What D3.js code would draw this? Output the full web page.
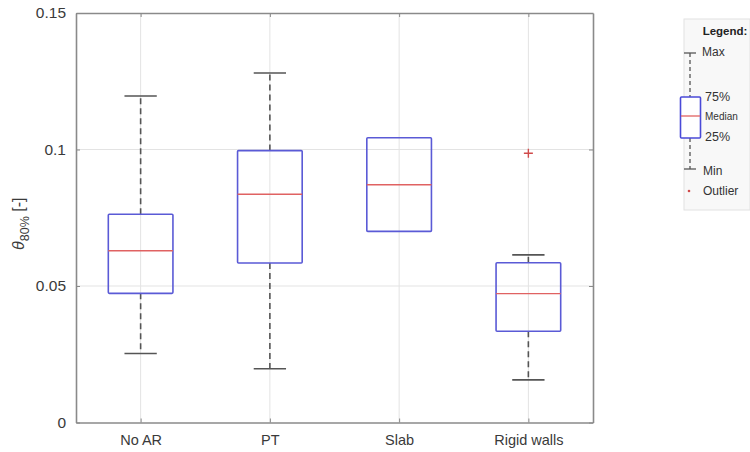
<!DOCTYPE html>
<html>
<head>
<meta charset="utf-8">
<script src="https://cdn.jsdelivr.net/npm/d3@7"></script>
<style>
  body { margin: 0; background: #fff; }
  svg { display: block; font-family: "Liberation Sans", Arial, sans-serif; }
</style>
</head>
<body>
<svg id="chart" width="750" height="452"></svg>
<script>
// ---- data ----
const categories = ["No AR", "PT", "Slab", "Rigid walls"];
const whiskerLow = [0.0253, 0.0197, 0.0700, 0.0156];
const q1 = [0.0473, 0.0584, 0.0700, 0.0334];
const medians = [0.0629, 0.0836, 0.0871, 0.0472];
const q3 = [0.0763, 0.0996, 0.1043, 0.0585];
const whiskerHigh = [0.1196, 0.1280, 0.1043, 0.0614];
const outliers = [[], [], [], [0.0986]];
const yTicks = [0, 0.05, 0.1, 0.15];
const yTickLabels = ["0", "0.05", "0.1", "0.15"];

// ---- layout ----
const svg = d3.select("#chart");
const L = 76, R = 593, T = 13, B = 422.5;

const x = d3.scalePoint().domain(categories).range([L, R]).padding(0.5);
const y = d3.scaleLinear().domain([0, 0.15]).range([B, T]);
const step = x.step();
const boxW = step * 0.5;
const capW = boxW * 0.5;

// grid
const g = svg.append("g");
g.selectAll(".hgrid").data(yTicks.slice(1, -1)).enter().append("line")
  .attr("x1", L).attr("x2", R).attr("y1", d => y(d)).attr("y2", d => y(d))
  .attr("stroke", "#e3e3e3").attr("stroke-width", 1);
g.selectAll(".vgrid").data(categories).enter().append("line")
  .attr("x1", d => x(d)).attr("x2", d => x(d)).attr("y1", T).attr("y2", B)
  .attr("stroke", "#e3e3e3").attr("stroke-width", 1);

// axes using d3 axis
const axisColor = "#8a8a8a";
const yAxis = svg.append("g").attr("transform", `translate(${L},0)`)
  .call(d3.axisLeft(y).tickValues(yTicks).tickFormat((d, i) => yTickLabels[i]).tickSizeInner(-4).tickSizeOuter(0).tickPadding(10));
const yAxisR = svg.append("g").attr("transform", `translate(${R},0)`)
  .call(d3.axisRight(y).tickValues(yTicks).tickFormat("").tickSizeInner(-4).tickSizeOuter(0));
const xAxis = svg.append("g").attr("transform", `translate(0,${B})`)
  .call(d3.axisBottom(x).tickSizeInner(-4).tickSizeOuter(0).tickPadding(12));
const xAxisT = svg.append("g").attr("transform", `translate(0,${T})`)
  .call(d3.axisTop(x).tickFormat("").tickSizeInner(-4).tickSizeOuter(0));
[yAxis, yAxisR, xAxis, xAxisT].forEach(a => {
  a.select(".domain").attr("stroke", axisColor).attr("stroke-width", 1.6);
  a.selectAll(".tick line").attr("stroke", axisColor).attr("stroke-width", 1);
  a.selectAll("text").attr("fill", "#3a3a3a").attr("font-size", 15.5)
    .attr("font-family", "'Liberation Sans', Arial, sans-serif");
});
xAxis.selectAll("text").attr("font-size", 14.5);

// boxes
const wColor = "#555";
categories.forEach((c, i) => {
  const cx = x(c);
  const grp = svg.append("g");
  if (whiskerHigh[i] > q3[i]) {
    grp.append("line").attr("x1", cx).attr("x2", cx)
      .attr("y1", y(q3[i])).attr("y2", y(whiskerHigh[i]))
      .attr("stroke", wColor).attr("stroke-width", 1.6).attr("stroke-dasharray", "6,4");
    grp.append("line").attr("x1", cx - capW / 2).attr("x2", cx + capW / 2)
      .attr("y1", y(whiskerHigh[i])).attr("y2", y(whiskerHigh[i]))
      .attr("stroke", wColor).attr("stroke-width", 1.6);
  }
  if (whiskerLow[i] < q1[i]) {
    grp.append("line").attr("x1", cx).attr("x2", cx)
      .attr("y1", y(q1[i])).attr("y2", y(whiskerLow[i]))
      .attr("stroke", wColor).attr("stroke-width", 1.6).attr("stroke-dasharray", "6,4");
    grp.append("line").attr("x1", cx - capW / 2).attr("x2", cx + capW / 2)
      .attr("y1", y(whiskerLow[i])).attr("y2", y(whiskerLow[i]))
      .attr("stroke", wColor).attr("stroke-width", 1.6);
  }
  grp.append("rect")
    .attr("x", cx - boxW / 2).attr("width", boxW)
    .attr("y", y(q3[i])).attr("height", y(q1[i]) - y(q3[i]))
    .attr("fill", "none").attr("stroke", "#5a5ad6").attr("stroke-width", 1.6).attr("rx", 1);
  grp.append("line")
    .attr("x1", cx - boxW / 2).attr("x2", cx + boxW / 2)
    .attr("y1", y(medians[i])).attr("y2", y(medians[i]))
    .attr("stroke", "#e06262").attr("stroke-width", 1.4);
  outliers[i].forEach(v => {
    const cy = y(v), s = 4.5;
    grp.append("path").attr("d", `M${cx - s},${cy}H${cx + s}M${cx},${cy - s}V${cy + s}`)
      .attr("stroke", "#d04a4a").attr("stroke-width", 1.4).attr("fill", "none");
  });
});

// y label
const yl = svg.append("text")
  .attr("transform", `translate(24,${(T + B) / 2 + 6}) rotate(-90)`)
  .attr("text-anchor", "middle").attr("fill", "#3a3a3a").attr("font-size", 16);
yl.append("tspan").attr("font-style", "italic").text("θ");
yl.append("tspan").attr("font-size", 12.5).attr("dy", 5).text("80%");
yl.append("tspan").attr("dy", -5).text(" [-]");

// legend
const lg = svg.append("g");
lg.append("rect").attr("x", 684).attr("y", 19).attr("width", 66).attr("height", 191)
  .attr("fill", "#f8f8f8").attr("stroke", "#e2e2e2").attr("stroke-width", 1);
lg.append("text").attr("x", 725).attr("y", 35).attr("text-anchor", "middle")
  .attr("font-size", 11.5).attr("font-weight", "bold").attr("fill", "#222").text("Legend:");
const lx = 690;
lg.append("line").attr("x1", lx).attr("x2", lx).attr("y1", 53).attr("y2", 97)
  .attr("stroke", wColor).attr("stroke-width", 1.3).attr("stroke-dasharray", "4,3");
lg.append("line").attr("x1", lx).attr("x2", lx).attr("y1", 138).attr("y2", 169)
  .attr("stroke", wColor).attr("stroke-width", 1.3).attr("stroke-dasharray", "4,3");
lg.append("line").attr("x1", lx - 6).attr("x2", lx + 6).attr("y1", 53).attr("y2", 53)
  .attr("stroke", wColor).attr("stroke-width", 1.3);
lg.append("line").attr("x1", lx - 6).attr("x2", lx + 6).attr("y1", 169).attr("y2", 169)
  .attr("stroke", wColor).attr("stroke-width", 1.3);
lg.append("rect").attr("x", 680.5).attr("y", 97).attr("width", 20).attr("height", 41)
  .attr("fill", "#fff").attr("stroke", "#4a4ad8").attr("stroke-width", 1.6).attr("rx", 1);
lg.append("line").attr("x1", 681).attr("x2", 700).attr("y1", 116).attr("y2", 116)
  .attr("stroke", "#e06262").attr("stroke-width", 1.3);
lg.append("circle").attr("cx", 689).attr("cy", 191).attr("r", 1.3).attr("fill", "#d04a4a");
const lt = [["Max", 56, 12], ["75%", 101, 12.5], ["Median", 120, 10], ["25%", 141, 12.5], ["Min", 175, 12], ["Outlier", 195, 12]];
lg.selectAll(".lt").data(lt).enter().append("text")
  .attr("x", d => d[0] === "Max" ? 702 : (d[0] === "Min" || d[0] === "Outlier" ? 703 : 705))
  .attr("y", d => d[1]).attr("font-size", d => d[2]).attr("fill", "#333")
  .text(d => d[0]);
</script>
</body>
</html>
